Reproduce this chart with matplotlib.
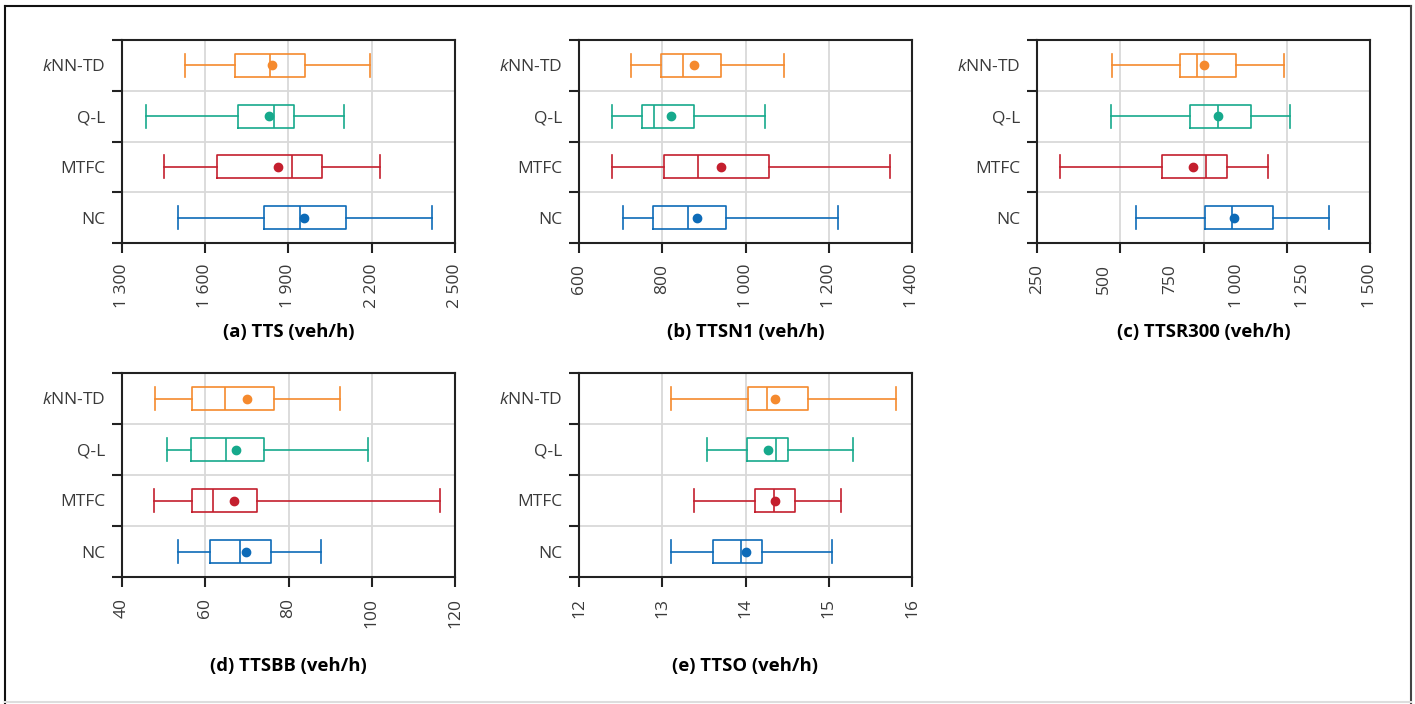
import numpy as np
import matplotlib
matplotlib.use("Agg")
import matplotlib.pyplot as plt
from matplotlib.lines import Line2D
from matplotlib.ticker import FixedLocator, FuncFormatter, NullFormatter

plt.rcParams['font.family'] = ['Open Sans', 'DejaVu Sans']
plt.rcParams['mathtext.fontset'] = 'custom'
plt.rcParams['mathtext.rm'] = 'Open Sans'
plt.rcParams['mathtext.it'] = 'Open Sans:italic'

# methods, bottom to top
methods = ['NC', 'MTFC', 'Q-L', 'kNN-TD']
method_labels = ['NC', 'MTFC', 'Q-L', r'$\mathit{k}$NN-TD']
colors = ['#0d6bb8', '#c41f2e', '#16a98c', '#f58a2e']

# each row: whisker low, Q1, median, Q3, whisker high, mean
tts = [[1500, 1813, 1942, 2107, 2416, 1957],
       [1453, 1643, 1914, 2022, 2229, 1861],
       [1388, 1718, 1846, 1920, 2101, 1829],
       [1527, 1708, 1835, 1958, 2192, 1840]]
ttsn1 = [[706, 777, 862, 954, 1223, 883],
         [679, 804, 887, 1057, 1347, 942],
         [679, 751, 780, 877, 1046, 820],
         [724, 798, 851, 940, 1092, 877]]
ttsr300 = [[622, 879, 981, 1135, 1345, 988],
           [338, 719, 886, 965, 1118, 837],
           [527, 824, 931, 1052, 1201, 931],
           [532, 786, 852, 997, 1178, 876]]
ttsbb = [[53.4, 61.2, 68.3, 75.7, 87.8, 69.7],
         [47.6, 56.9, 61.9, 72.5, 116.5, 67.0],
         [50.8, 56.5, 65.1, 74.0, 99.1, 67.4],
         [48.0, 56.9, 64.8, 76.5, 92.4, 70.0]]
ttso = [[13.11, 13.61, 13.95, 14.20, 15.04, 14.00],
        [13.38, 14.12, 14.34, 14.60, 15.15, 14.35],
        [13.54, 14.02, 14.37, 14.51, 15.29, 14.27],
        [13.11, 14.03, 14.26, 14.75, 15.81, 14.36]]

panels = [
    (tts, '(a) TTS (veh/h)', [1300, 1600, 1900, 2200, 2500], None),
    (ttsn1, '(b) TTSN1 (veh/h)', [600, 800, 1000, 1200, 1400], None),
    (ttsr300, '(c) TTSR300 (veh/h)', [250, 500, 750, 1000, 1250, 1500], 5),
    (ttsbb, '(d) TTSBB (veh/h)', [40, 60, 80, 100, 120], None),
    (ttso, '(e) TTSO (veh/h)', [12, 13, 14, 15, 16], None),
]

W, H = 1415, 704
fig = plt.figure(figsize=(W / 100, H / 100), dpi=100)

# axes boxes in pixels: left, top, right, bottom
boxes = [(122, 40, 455, 243), (579, 40, 912, 243), (1037, 40, 1370, 243),
         (122, 373, 455, 577), (579, 373, 912, 577)]


def fmt(v, pos=None):
    return f"{v:,.0f}".replace(',', ' ')


for (data, title, ticks, n_grid), (l, t, r, b) in zip(panels, boxes):
    ax = fig.add_axes([l / W, 1 - b / H, (r - l) / W, (b - t) / H])
    stats = []
    for row in data:
        stats.append(dict(whislo=row[0], q1=row[1], med=row[2], q3=row[3],
                          whishi=row[4], mean=row[5], fliers=[]))
    bp = ax.bxp(stats, positions=range(len(methods)), orientation='horizontal',
                widths=0.45, capwidths=0.45, showmeans=True,
                showfliers=False, patch_artist=False)
    for i, c in enumerate(colors):
        bp['boxes'][i].set(color=c, linewidth=1.2)
        bp['medians'][i].set(color=c, linewidth=1.2)
        for k in (2 * i, 2 * i + 1):
            bp['whiskers'][k].set(color=c, linewidth=1.2)
            bp['caps'][k].set(color=c, linewidth=1.2)
        bp['means'][i].set(marker='o', markerfacecolor=c, markeredgecolor=c,
                           markersize=6)

    ax.set_xlim(ticks[0], ticks[-1])
    ax.set_ylim(-0.5, len(methods) - 0.5)

    # y: ticks on the band edges, labels at band centres
    ax.yaxis.set_major_locator(FixedLocator(np.arange(-0.5, len(methods), 1.0)))
    ax.yaxis.set_major_formatter(NullFormatter())
    ax.yaxis.set_minor_locator(FixedLocator(range(len(methods))))
    ax.set_yticklabels(method_labels, minor=True)
    ax.tick_params(axis='y', which='major', length=7, width=1.5, color='#222')
    ax.tick_params(axis='y', which='minor', length=0, pad=12,
                   labelsize=12.5, labelcolor='#3a3a3a')

    if n_grid is None:
        ax.xaxis.set_major_locator(FixedLocator(ticks))
        ax.xaxis.set_major_formatter(FuncFormatter(fmt))
        ax.tick_params(axis='x', which='major', length=7, width=1.5,
                       color='#222', pad=8, labelsize=12.5,
                       labelcolor='#3a3a3a', labelrotation=90)
    else:
        # grid lines don't line up with the labels in the original
        ax.xaxis.remove_overlapping_locs = False
        ax.xaxis.set_major_locator(FixedLocator(np.linspace(ticks[0], ticks[-1], n_grid)))
        ax.xaxis.set_major_formatter(NullFormatter())
        ax.xaxis.set_minor_locator(FixedLocator(ticks))
        ax.xaxis.set_minor_formatter(FuncFormatter(fmt))
        ax.tick_params(axis='x', which='major', length=7, width=1.5, color='#222')
        ax.tick_params(axis='x', which='minor', length=0, pad=15, labelsize=12.5,
                       labelcolor='#3a3a3a', labelrotation=90)

    ax.grid(True, which='major', color='#d9d9d9', linewidth=1.3)
    ax.set_axisbelow(True)
    for s in ax.spines.values():
        s.set_color('#222')
        s.set_linewidth(1.5)

    ax.text(0.5, -0.438, title, transform=ax.transAxes, ha='center', va='center',
            fontsize=13.3, fontweight='bold')

# outer frame
def frame_line(x0, y0, x1, y1, color):
    fig.add_artist(Line2D([x0 / W, x1 / W], [1 - y0 / H, 1 - y1 / H],
                          color=color, linewidth=1.5))

frame_line(5, 6, 1411, 6, '#111')
frame_line(5, 6, 5, 704, '#111')
frame_line(1411, 6, 1411, 704, '#444')
frame_line(5, 702, 1411, 702, '#dddddd')

fig.savefig('out.png', dpi=100)
